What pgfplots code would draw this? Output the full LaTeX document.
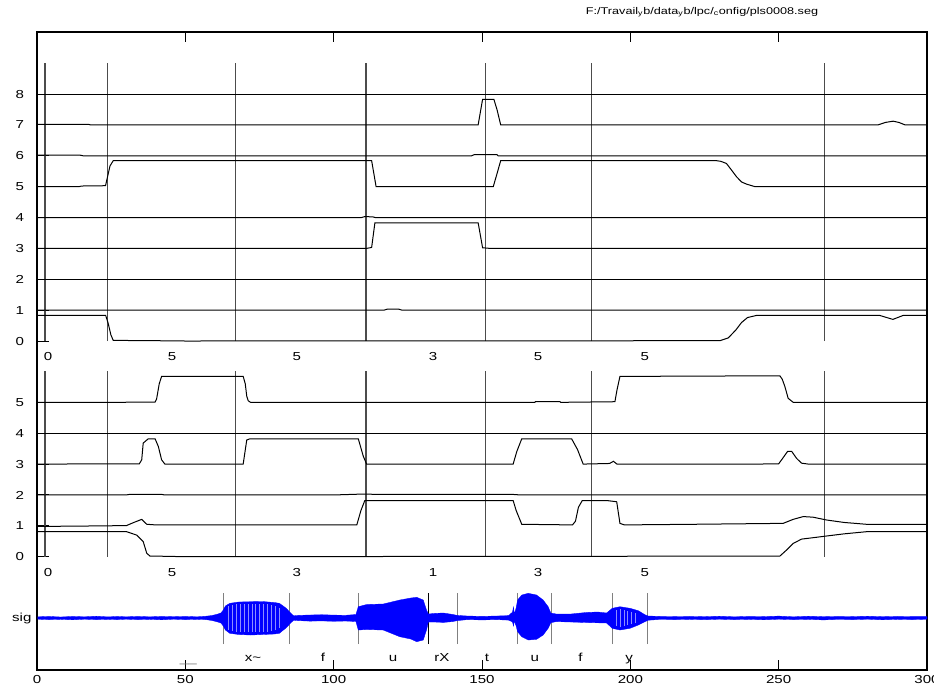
\documentclass[border=0pt]{standalone}
\usepackage{fontspec}
\setmainfont{Liberation Sans}[FakeStretch=1.3]
\usepackage{pgfplots}
\pgfplotsset{compat=1.18}
\newcommand\lf{\fontsize{8.7pt}{10pt}\selectfont}
\pgfplotsset{
  panel/.style={scale only axis, width=667.5pt, xmin=0, xmax=300,
    axis line style={draw=none}, xtick=\empty, ytick pos=left, tick align=inside,
    major tick length=9.2pt, tick style={black, line width=0.7pt},
    clip=false, /pgf/number format/assume math mode=true},
  cv/.style={black, line width=0.75pt},
  vl/.style={black!70, line width=0.8pt},
  sl/.style={black!50, line width=0.9pt},
  st/.style={white, opacity=0.55, line width=0.35pt},
}
\begin{document}
\begin{tikzpicture}
\useasboundingbox (0pt,0pt) rectangle (700.5pt,-514.5pt);
\node[font=\fontsize{7.3pt}{9pt}\selectfont] at (526.5pt,-9pt) {F:/Travail\textsubscript{y}b/data\textsubscript{y}b/lpc/\textsubscript{c}onfig/pls0008.seg};
% outer frame
\begin{axis}[at={(27.75pt,-502.5pt)}, anchor=south west, scale only axis,
  width=667.5pt, height=478.5pt, xmin=0, xmax=300, ymin=0, ymax=1,
  ytick=\empty, xtick={0,50,100,150,200,250,300},
  xticklabels={0,50,100,150,200,250,300}, tick pos=both,
  major tick length=7.5pt, tick align=inside, axis line style={line width=0.9pt},
  tick style={black, line width=0.75pt},
  xticklabel style={font=\lf, inner sep=0pt, yshift=-3.75pt},
  /pgf/number format/assume math mode=true]
\addplot[draw=none] coordinates {(0,0)(300,1)};
\end{axis}
% top panel
\begin{axis}[panel, at={(27.75pt,-255.75pt)}, anchor=south west,
  height=208.40625pt, ymin=0, ymax=9, ytick={0,1,2,3,4,5,6,7,8},
  yticklabels={0,1,2,3,4,5,6,7,8},
  yticklabel style={font=\lf, inner sep=0pt, xshift=-9.5pt, anchor=east}]
\addplot[vl] coordinates {(2.7,0)(2.7,9)};
\addplot[vl] coordinates {(23.7,0)(23.7,9)};
\addplot[vl] coordinates {(67.0,0)(67.0,9)};
\addplot[vl] coordinates {(110.9,0)(110.9,9)};
\addplot[vl] coordinates {(151.1,0)(151.1,9)};
\addplot[vl] coordinates {(187.0,0)(187.0,9)};
\addplot[vl] coordinates {(265.3,0)(265.3,9)};
\addplot[cv] coordinates {(0.3,0.83)(23.15,0.83)(24.0,0.57)(24.9,0.2)(25.7,0.02)(40,0.01)(50,0)(230.2,0.01)(233,0.1)(235.5,0.35)(237.5,0.6)(239.5,0.76)(242.6,0.83)(284,0.83)(288.5,0.7)(292,0.83)(300,0.83)};
\addplot[cv] coordinates {(0.3,1)(117,1)(118,1.03)(122,1.03)(123,1)(300,1)};
\addplot[cv] coordinates {(0.3,2)(300,2)};
\addplot[cv] coordinates {(0.3,3)(111.1,3)(112.8,3.03)(113.9,3.83)(148.7,3.83)(150.2,3.02)(152.7,3.0)(300,3)};
\addplot[cv] coordinates {(0.3,4)(109.4,4)(110.5,4.03)(113.2,4.02)(114,4)(300,4)};
\addplot[cv] coordinates {(0.3,5)(14.2,5)(15,5.02)(23.1,5.03)(24.6,5.67)(25.7,5.84)(112.8,5.84)(114.3,5.0)(153.8,5.0)(155,5.4)(156.3,5.84)(229.1,5.84)(230.5,5.82)(232.4,5.75)(234,5.55)(235.8,5.32)(237.5,5.15)(239.2,5.08)(242,5.0)(300,5)};
\addplot[cv] coordinates {(0.3,6.02)(14.5,6.02)(15.5,6.0)(146.5,6.0)(147.5,6.04)(155,6.04)(155.4,6)(300,6)};
\addplot[cv] coordinates {(0.3,7.02)(17.3,7.02)(18,7)(148.7,7.0)(150.2,7.83)(154,7.83)(155.1,7.48)(156.3,7.0)(283.5,7.0)(286,7.08)(288.6,7.12)(290.5,7.08)(292.6,7.0)(300,7)};
\addplot[cv] coordinates {(0.3,8)(300,8)};
\node[font=\lf, anchor=base] at (axis cs:3.7,-0.638) {0};
\node[font=\lf, anchor=base] at (axis cs:45.5,-0.638) {5};
\node[font=\lf, anchor=base] at (axis cs:87.6,-0.638) {5};
\node[font=\lf, anchor=base] at (axis cs:133.5,-0.638) {3};
\node[font=\lf, anchor=base] at (axis cs:168.9,-0.638) {5};
\node[font=\lf, anchor=base] at (axis cs:204.9,-0.638) {5};
\end{axis}
% middle panel
\begin{axis}[panel, at={(27.75pt,-417.525pt)}, anchor=south west,
  height=138.9375pt, ymin=0, ymax=6, ytick={0,1,2,3,4,5},
  yticklabels={0,1,2,3,4,5},
  yticklabel style={font=\lf, inner sep=0pt, xshift=-9.5pt, anchor=east}]
\addplot[vl] coordinates {(2.7,0)(2.7,6)};
\addplot[vl] coordinates {(23.7,0)(23.7,6)};
\addplot[vl] coordinates {(67.0,0)(67.0,6)};
\addplot[vl] coordinates {(110.9,0)(110.9,6)};
\addplot[vl] coordinates {(151.1,0)(151.1,6)};
\addplot[vl] coordinates {(187.0,0)(187.0,6)};
\addplot[vl] coordinates {(265.3,0)(265.3,6)};
\addplot[cv] coordinates {(0.3,0.81)(30.2,0.81)(33.6,0.70)(35.8,0.49)(37,0.11)(38.1,0.02)(46.5,0.01)(47,0)(250.4,0.02)(252.7,0.22)(254.9,0.43)(257.7,0.57)(262.8,0.63)(266.1,0.67)(272,0.74)(279.6,0.81)(300,0.81)};
\addplot[cv] coordinates {(0.3,0.98)(23.5,1.0)(30.2,1.01)(32.4,1.10)(35.3,1.21)(37,1.05)(40,1.03)(107.8,1.03)(109.2,1.5)(110.5,1.82)(160.5,1.82)(161.5,1.5)(163.4,1.05)(180.5,1.03)(181.5,1.15)(182.5,1.6)(183.8,1.82)(192,1.82)(195.4,1.78)(196.5,1.08)(198,1.03)(221,1.05)(251.5,1.08)(254.9,1.21)(258.3,1.30)(261.6,1.28)(266.1,1.19)(272,1.11)(279.6,1.05)(300,1.05)};
\addplot[cv] coordinates {(0.3,2.0)(30,2.0)(31.3,2.02)(42,2.02)(43,2.0)(100,2.0)(110,2.03)(114,2.02)(160,2.02)(163,2.0)(300,2.0)};
\addplot[cv] coordinates {(0.3,3.0)(34.5,3.01)(35.3,3.14)(35.8,3.68)(37.5,3.82)(39.8,3.82)(40.9,3.57)(42.0,3.14)(43.1,3.0)(69.5,3.0)(70.7,3.78)(71.8,3.82)(108.3,3.82)(110,3.25)(111.1,3.0)(160.5,3.0)(161.7,3.4)(163.4,3.82)(180.2,3.82)(182.2,3.47)(184.1,3.0)(193,3.02)(194.3,3.09)(195.5,3.0)(242.6,3.0)(250,3.01)(251,3.14)(253,3.41)(254.4,3.41)(256,3.19)(257.7,3.03)(260,3.0)(300,3.0)};
\addplot[cv] coordinates {(0.3,4)(300,4)};
\addplot[cv] coordinates {(0.3,5.0)(29.7,5.0)(30.5,5.01)(39.8,5.01)(40.3,5.1)(41.2,5.6)(42.0,5.84)(69.5,5.84)(70.2,5.6)(70.7,5.2)(71.2,5.05)(72,5.0)(167.8,5.0)(168,5.02)(176.3,5.02)(176.5,5.0)(194.8,5.02)(195.5,5.4)(196.5,5.84)(250.4,5.86)(251.2,5.75)(252.1,5.51)(253.2,5.13)(254.9,5.0)(300,5.0)};
\node[font=\lf, anchor=base] at (axis cs:3.7,-0.648) {0};
\node[font=\lf, anchor=base] at (axis cs:45.5,-0.648) {5};
\node[font=\lf, anchor=base] at (axis cs:87.6,-0.648) {3};
\node[font=\lf, anchor=base] at (axis cs:133.5,-0.648) {1};
\node[font=\lf, anchor=base] at (axis cs:168.9,-0.648) {3};
\node[font=\lf, anchor=base] at (axis cs:204.9,-0.648) {5};
\end{axis}
% signal panel
\begin{axis}[panel, at={(27.75pt,-483pt)}, anchor=south west,
  height=38.25pt, ymin=-26, ymax=25, ytick={0}, yticklabels={sig},
  major tick length=0pt,
  yticklabel style={font=\lf, inner sep=0pt, xshift=-4pt, anchor=east}]
\addplot[sl] coordinates {(62.8,-26)(62.8,25)};
\addplot[sl] coordinates {(85.0,-26)(85.0,25)};
\addplot[sl] coordinates {(108.3,-26)(108.3,25)};
\addplot[black, line width=0.8pt] coordinates {(131.9,-26)(131.9,25)};
\addplot[sl] coordinates {(141.7,-26)(141.7,25)};
\addplot[sl] coordinates {(162.0,-26)(162.0,25)};
\addplot[sl] coordinates {(173.5,-26)(173.5,25)};
\addplot[sl] coordinates {(193.9,-26)(193.9,25)};
\addplot[sl] coordinates {(205.7,-26)(205.7,25)};
\addplot[fill=blue, draw=blue, line width=0.25pt] coordinates {
(0.3,1.2)(4,1.6)(8,1.0)(12,1.6)(16,1.2)(20,1.8)(24,1.1)(27,1.6)(30,1.2)(34,1.6)(38,1.2)(42,1.6)(46,1.3)(50,1.6)(54,1.2)(57,1.8)(59,2.5)(61,4)(62,5)(62.8,8)(63.5,12)(65,14.7)(68,16)(72,16.3)(76,16.5)(80,15.5)(81.7,14.7)(83.9,10)(85.5,5)(86.5,2.2)(88,2.6)(92,3)(96,3.3)(100,2.9)(104,2.7)(107.5,3.5)(108.3,11.3)(111.1,13.5)(116.7,14)(122.3,18)(126,20)(128.0,20.7)(130.2,18)(131.3,8)(131.9,4)(134,4.6)(137,5.0)(140,3.6)(141.7,2.6)(145,2.0)(150,1.6)(155,2.0)(159,2.4)(160.3,6)(160.6,11)(160.9,4)(161.5,10)(162.0,18)(163.4,23)(165.6,24.7)(168.4,23)(170.6,18)(172.3,11.3)(173.2,5)(175,4.0)(180,4.0)(185,5.5)(189,6.0)(192,5.0)(193.9,9.7)(196.5,11.3)(199.9,9.7)(202.7,7.3)(204.9,3.3)(206,2.0)(210,1.6)(215,1.4)(220,1.6)(225,1.3)(230,1.8)(235,1.2)(240,1.6)(245,1.4)(250,1.9)(255,1.2)(260,1.8)(265,1.3)(270,1.6)(275,1.4)(280,1.8)(285,1.3)(290,1.6)(295,1.4)(300,1.4)
(300,-1.2)(295,-1.6)(290,-1.3)(285,-1.8)(280,-1.2)(275,-1.6)(270,-1.4)(265,-1.9)(260,-1.3)(255,-1.6)(250,-1.2)(245,-1.8)(240,-1.3)(235,-1.6)(230,-1.2)(225,-1.7)(220,-1.3)(215,-1.6)(210,-1.4)(206,-2.2)(204.9,-3.7)(202.7,-7)(199.9,-10.3)(196.5,-12)(193.9,-10.3)(192,-5.0)(189,-4.8)(185,-4.5)(180,-4.0)(175,-3.6)(173.2,-4.7)(172.3,-10.3)(170.6,-17)(168.4,-21.3)(165.6,-22)(163.4,-18.7)(162.0,-13.7)(161.5,-8)(160.9,-3)(160.6,-8)(160.3,-4)(159,-2.1)(155,-1.6)(150,-1.9)(145,-1.6)(141.7,-2.6)(140,-3.6)(137,-4.4)(134,-4.0)(131.9,-4)(131.3,-12)(130.2,-22)(128.0,-23.7)(126,-21)(122.3,-18.7)(116.7,-12)(111.1,-11.5)(108.3,-12)(107.5,-3.5)(104,-3.0)(100,-3.3)(96,-2.9)(92,-3.1)(88,-2.6)(86.5,-2.2)(85.5,-5)(83.9,-10)(81.7,-15.3)(80,-16)(76,-16.5)(72,-17)(68,-16.5)(65,-15.3)(63.5,-12)(62.8,-8)(62,-5)(61,-4)(59,-2.5)(57,-1.6)(54,-1.3)(50,-1.6)(46,-1.2)(42,-1.8)(38,-1.3)(34,-1.6)(30,-1.2)(27,-1.6)(24,-1.3)(20,-1.6)(16,-1.2)(12,-1.8)(8,-1.3)(4,-1.6)(0.3,-1.2)} -- cycle;
% glottal-period stripes
\addplot[st] coordinates {(64.6,-12)(64.6,12)};
\addplot[st] coordinates {(65.9,-13)(65.9,13)};
\addplot[st] coordinates {(67.2,-14)(67.2,14)};
\addplot[st] coordinates {(68.5,-14)(68.5,14)};
\addplot[st] coordinates {(69.8,-14)(69.8,14)};
\addplot[st] coordinates {(71.1,-14)(71.1,14)};
\addplot[st] coordinates {(72.4,-14)(72.4,14)};
\addplot[st] coordinates {(73.7,-14)(73.7,14)};
\addplot[st] coordinates {(75.0,-14)(75.0,14)};
\addplot[st] coordinates {(76.3,-14)(76.3,14)};
\addplot[st] coordinates {(77.6,-14)(77.6,14)};
\addplot[st] coordinates {(78.9,-13)(78.9,13)};
\addplot[st] coordinates {(80.2,-12)(80.2,12)};
\addplot[st] coordinates {(81.5,-10)(81.5,10)};
\addplot[st] coordinates {(195.2,-8)(195.2,8)};
\addplot[st] coordinates {(196.5,-9)(196.5,9)};
\addplot[st] coordinates {(197.8,-8)(197.8,8)};
\addplot[st] coordinates {(199.1,-7)(199.1,7)};
\addplot[st] coordinates {(200.4,-6)(200.4,6)};
\addplot[st] coordinates {(201.7,-5)(201.7,5)};
\node[font=\lf, anchor=base] at (axis cs:72.8,-43) {x\textasciitilde};
\node[font=\lf, anchor=base] at (axis cs:96.4,-43) {f};
\node[font=\lf, anchor=base] at (axis cs:120,-43) {u};
\node[font=\lf, anchor=base] at (axis cs:136.5,-43) {rX};
\node[font=\lf, anchor=base] at (axis cs:151.7,-43) {t};
\node[font=\lf, anchor=base] at (axis cs:167.8,-43) {u};
\node[font=\lf, anchor=base] at (axis cs:183.2,-43) {f};
\node[font=\lf, anchor=base] at (axis cs:199.6,-43) {y};
\node[font=\lf, anchor=base, text=black!55] at (axis cs:51,-44.5) {\_\_};
\end{axis}
\end{tikzpicture}
\end{document}
